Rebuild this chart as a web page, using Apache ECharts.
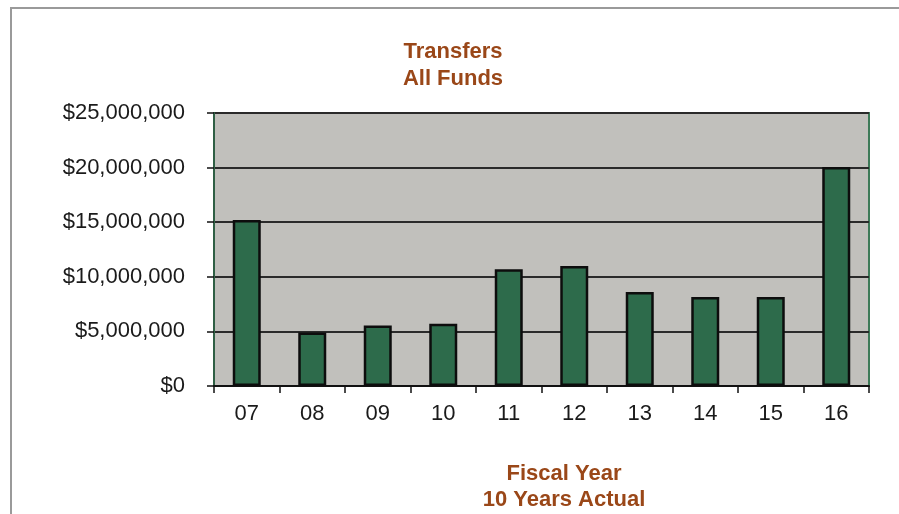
<!DOCTYPE html>
<html>
<head>
<meta charset="utf-8">
<script src="https://cdn.jsdelivr.net/npm/echarts@6/dist/echarts.min.js"></script>
<style>
  html, body { margin: 0; padding: 0; background: #ffffff; }
  #chart { width: 899px; height: 514px; }
</style>
</head>
<body>
<div id="chart"></div>
<script>
// Fiscal years (two-digit labels)
const years = ['07', '08', '09', '10', '11', '12', '13', '14', '15', '16'];
// Transfers, all funds, in dollars
const transfers = [15200000, 4900000, 5550000, 5700000, 10700000, 11000000, 8600000, 8150000, 8150000, 20050000];
// Value axis range and step
const yMin = 0;
const yMax = 25000000;
const yStep = 5000000;

const titleColor = '#9a4718';
const fontFamily = '"Liberation Sans", Arial, sans-serif';

function money(v) {
  return '$' + Math.round(v).toString().replace(/\B(?=(\d{3})+(?!\d))/g, ',');
}

const chart = echarts.init(document.getElementById('chart'));
chart.setOption({
  animation: false,
  backgroundColor: '#ffffff',
  title: [
    {
      text: 'Transfers\nAll Funds',
      left: 448,
      top: 33,
      textAlign: 'center',
      textStyle: {
        color: titleColor, fontFamily: fontFamily, fontWeight: 'bold',
        fontSize: 22, lineHeight: 27, align: 'center'
      }
    },
    {
      text: 'Fiscal Year\n10 Years Actual',
      left: 559,
      top: 456,
      textAlign: 'center',
      textStyle: {
        color: titleColor, fontFamily: fontFamily, fontWeight: 'bold',
        fontSize: 22, lineHeight: 26, align: 'center'
      }
    }
  ],
  graphic: [
    {
      type: 'polyline',
      shape: { points: [[11, 520], [11, 8], [905, 8]] },
      style: { stroke: '#9a9a9a', lineWidth: 2, fill: null },
      silent: true
    }
  ],
  grid: {
    left: 214, right: 30, top: 113, bottom: 128,
    show: true,
    backgroundColor: '#c1c0bc',
    borderColor: '#3d7a58',
    borderWidth: 2
  },
  xAxis: {
    type: 'category',
    data: years,
    boundaryGap: true,
    axisLine: { show: true, lineStyle: { color: '#111111', width: 2 } },
    axisTick: { show: true, inside: false, length: 7, alignWithLabel: false, lineStyle: { color: '#111111', width: 1.5 } },
    axisLabel: { color: '#1a1a1a', fontFamily: fontFamily, fontSize: 22, margin: 17 }
  },
  yAxis: {
    type: 'value',
    min: yMin,
    max: yMax,
    interval: yStep,
    axisLine: { show: true, lineStyle: { color: '#2f5f44', width: 2 } },
    axisTick: { show: true, inside: false, length: 7, lineStyle: { color: '#111111', width: 1.5 } },
    axisLabel: { color: '#1a1a1a', fontFamily: fontFamily, fontSize: 22, margin: 29, formatter: money },
    splitLine: { show: true, lineStyle: { color: '#2a2a2a', width: 2 } }
  },
  series: [
    {
      type: 'bar',
      data: transfers,
      barWidth: 28,
      itemStyle: { color: '#2d6b4b', borderColor: '#0d0d0d', borderWidth: 2.5 },
      z: 3
    }
  ]
});
</script>
</body>
</html>
